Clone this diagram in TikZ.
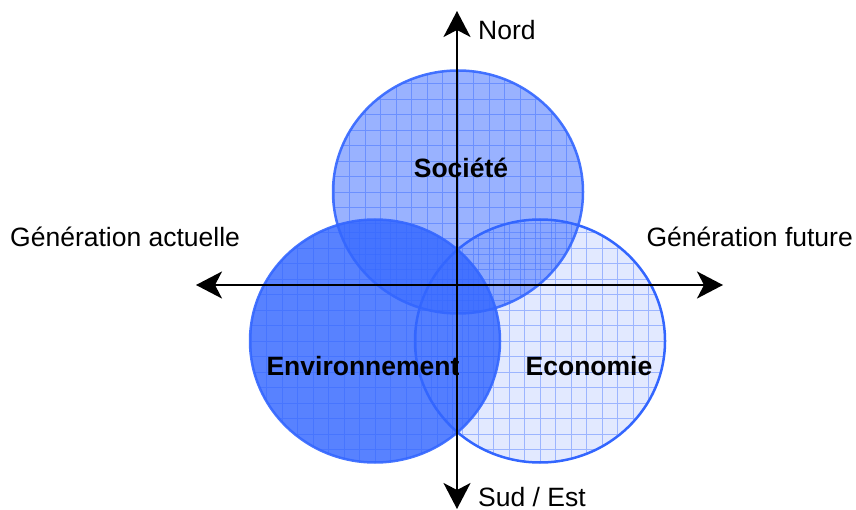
\documentclass[tikz,border=0pt]{standalone}
\usepackage{fontspec}
\setmainfont{Liberation Sans}
\usetikzlibrary{shapes.geometric,arrows.meta}
\definecolor{vblue}{RGB}{51,102,255}
\tikzset{
  venn/.style={ellipse, minimum width=250pt, minimum height=243pt, inner sep=0pt,
    draw=vblue, line width=2.5pt},
  gridlines/.style={draw=vblue, line width=0.9pt},
  lbl/.style={font=\fontsize{26.5}{30}\selectfont, inner sep=0pt},
  blbl/.style={font=\fontsize{26.5}{30}\selectfont\bfseries, inner sep=0pt},
  axis/.style={line width=2pt, {Stealth[length=26pt,width=27pt,inset=7pt]}-{Stealth[length=26pt,width=27pt,inset=7pt]}}
}
\begin{document}
\begin{tikzpicture}[x=1pt,y=-1pt]
\useasboundingbox (0,0) rectangle (856,510);
% Economie (lightest)
\node[venn, fill=vblue, fill opacity=0.14, draw opacity=1,
  path picture={\draw[gridlines, draw opacity=0.4, step=15.5pt]
    (path picture bounding box.south west) grid (path picture bounding box.north east);}]
  (eco) at (540,341) {};
% Societe
\node[venn, fill=vblue, fill opacity=0.5, draw opacity=0.9,
  path picture={\draw[gridlines, draw opacity=0.45, step=15.5pt]
    (path picture bounding box.south west) grid (path picture bounding box.north east);}]
  (soc) at (458,192) {};
% Environnement
\node[venn, fill=vblue, fill opacity=0.82, draw opacity=0.9,
  path picture={\draw[gridlines, draw opacity=0.45, step=15.5pt]
    (path picture bounding box.south west) grid (path picture bounding box.north east);}]
  (env) at (375,341) {};
% axes
\coordinate (W) at (196,285);
\coordinate (E) at (723,285);
\coordinate (N) at (457,11);
\coordinate (S) at (457,509);
\draw[axis] (W) -- (E);
\draw[axis] (N) -- (S);
% labels
\node[lbl, anchor=west] (nord) at (478,30) {Nord};
\node[lbl, anchor=west] (sud) at (478,497) {Sud / Est};
\node[lbl, anchor=west] (actu) at (10,237) {Génération actuelle};
\node[lbl, anchor=east] (fut) at (853,237) {Génération future};
\node[blbl] (tsoc) at (461,168) {Société};
\node[blbl] (tenv) at (363,366) {Environnement};
\node[blbl] (teco) at (589,366) {Economie};
\end{tikzpicture}
\end{document}
